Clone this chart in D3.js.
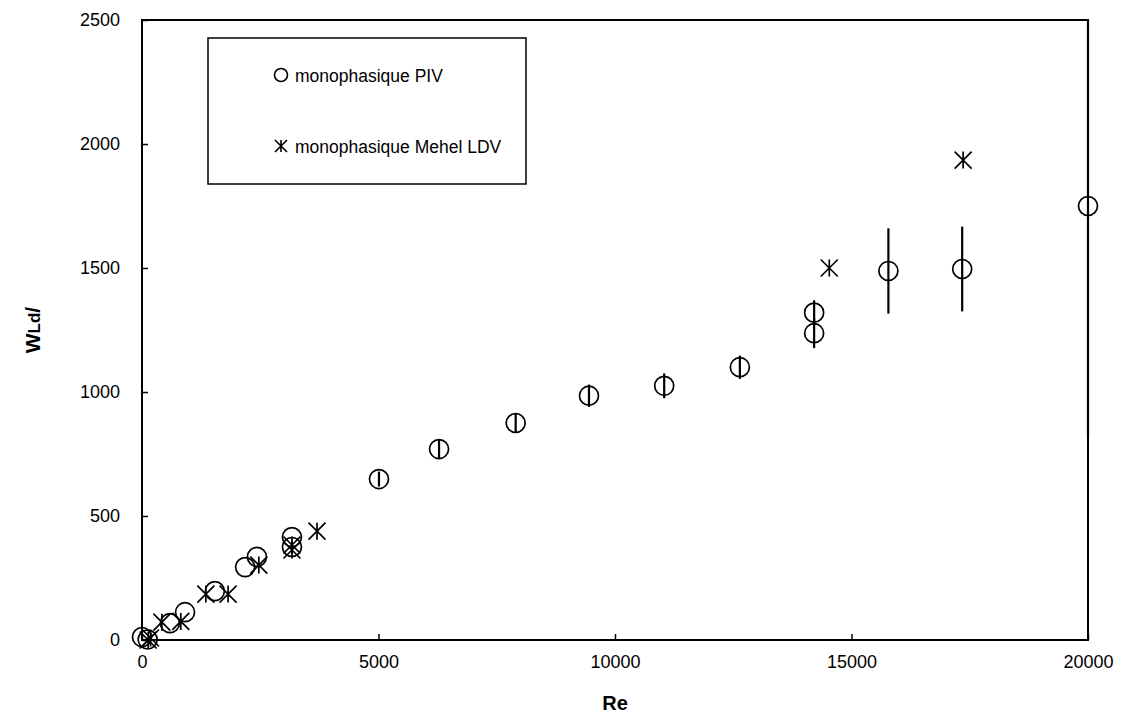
<!DOCTYPE html>
<html>
<head>
<meta charset="utf-8">
<script src="https://cdn.jsdelivr.net/npm/d3@7"></script>
<style>
  html, body { margin: 0; padding: 0; background: #fff; }
  svg { display: block; font-family: "Liberation Sans", Arial, sans-serif; }
</style>
</head>
<body>
<svg id="chart" width="1128" height="724"></svg>
<script>
// ---- data ----
const pivRe  = [0, 120, 590, 910, 1540, 2180, 2430, 3170, 3170, 5010, 6280, 7900, 9450, 11040, 12640, 14210, 14210, 15780, 17340, 20000];
const pivW   = [12, 2, 68, 112, 197, 294, 335, 415, 375, 649, 770, 875, 985, 1025, 1100, 1320, 1237, 1488, 1496, 1750];
const pivErr = [0, 0, 0, 0, 0, 0, 0, 0, 0, 30, 40, 40, 45, 50, 47, 50, 60, 172, 171, 935];
const ldvRe  = [130, 180, 420, 820, 1350, 1820, 2470, 3170, 3170, 3700, 14530, 17360];
const ldvW   = [0, 8, 72, 75, 185, 185, 302, 383, 363, 439, 1500, 1935];
const xTicks = [0, 5000, 10000, 15000, 20000];
const yTicks = [0, 500, 1000, 1500, 2000, 2500];
const seriesNames = ["monophasique PIV", "monophasique Mehel LDV"];
const xTitle = "Re";

// ---- layout ----
const svg = d3.select("#chart");
const L = 142, R = 1088, T = 20, B = 640;
const x = d3.scaleLinear().domain([0, 20000]).range([L, R]);
const y = d3.scaleLinear().domain([0, 2500]).range([B, T]).clamp(true);
const tickFont = 18;
const fam = "Liberation Sans, Arial, sans-serif";

svg.append("rect").attr("width", 1128).attr("height", 724).attr("fill", "#fff");

// axes
const xAxis = svg.append("g").attr("transform", `translate(0,${B})`)
  .call(d3.axisBottom(x).tickValues(xTicks).tickSizeInner(-6).tickSizeOuter(0).tickPadding(15).tickFormat(d3.format("d")));
const yAxis = svg.append("g").attr("transform", `translate(${L},0)`)
  .call(d3.axisLeft(y).tickValues(yTicks).tickSizeInner(-6).tickSizeOuter(0).tickPadding(22).tickFormat(d3.format("d")));
[xAxis, yAxis].forEach(g => {
  g.attr("font-size", tickFont).attr("font-family", fam);
  g.select(".domain").remove();
  g.selectAll(".tick line").attr("stroke", "#000").attr("stroke-width", 1.5);
  g.selectAll(".tick text").attr("fill", "#000");
});

// plot border
svg.append("rect").attr("x", L).attr("y", T).attr("width", R - L).attr("height", B - T)
  .attr("fill", "none").attr("stroke", "#000").attr("stroke-width", 2);

// error bars
const piv = pivRe.map((r, i) => ({ re: r, w: pivW[i], e: pivErr[i] }));
svg.append("g").selectAll("line").data(piv.filter(d => d.e > 0)).join("line")
  .attr("x1", d => x(d.re)).attr("x2", d => x(d.re))
  .attr("y1", d => y(d.w - d.e)).attr("y2", d => y(d.w + d.e))
  .attr("stroke", "#000").attr("stroke-width", 2.2);

// PIV circles
svg.append("g").selectAll("circle").data(piv).join("circle")
  .attr("cx", d => x(d.re)).attr("cy", d => y(d.w)).attr("r", 9.5)
  .attr("fill", "none").attr("stroke", "#000").attr("stroke-width", 1.7);

// star path
function starPath(cx, cy, s) {
  return `M${cx - s},${cy - s}L${cx + s},${cy + s}M${cx - s},${cy + s}L${cx + s},${cy - s}M${cx},${cy - s}L${cx},${cy + s}`;
}
const ldv = ldvRe.map((r, i) => ({ re: r, w: ldvW[i] }));
svg.append("g").selectAll("path").data(ldv).join("path")
  .attr("d", d => starPath(x(d.re), y(d.w), 8.5))
  .attr("fill", "none").attr("stroke", "#000").attr("stroke-width", 1.7);

// legend
const lg = svg.append("g").attr("font-family", fam);
lg.append("rect").attr("x", 208).attr("y", 38).attr("width", 318).attr("height", 146)
  .attr("fill", "#fff").attr("stroke", "#000").attr("stroke-width", 1.5);
lg.append("circle").attr("cx", 281).attr("cy", 75).attr("r", 6.5)
  .attr("fill", "none").attr("stroke", "#000").attr("stroke-width", 1.6);
lg.append("path").attr("d", starPath(281, 146, 6))
  .attr("fill", "none").attr("stroke", "#000").attr("stroke-width", 1.6);
lg.append("text").attr("x", 295).attr("y", 82).attr("font-size", 17.5).text(seriesNames[0]);
lg.append("text").attr("x", 295).attr("y", 153).attr("font-size", 17.5).text(seriesNames[1]);

// axis titles
svg.append("text").attr("x", 615).attr("y", 710).attr("text-anchor", "middle").attr("font-family", fam)
  .attr("font-size", 20).attr("font-weight", "bold").text(xTitle);
const yt = svg.append("text").attr("transform", "translate(40,330) rotate(-90)").attr("font-family", fam)
  .attr("text-anchor", "middle").attr("font-weight", "bold").attr("font-size", 21);
yt.append("tspan").text("W");
yt.append("tspan").attr("font-size", 17).text("Ld");
yt.append("tspan").text("/");
</script>
</body>
</html>
